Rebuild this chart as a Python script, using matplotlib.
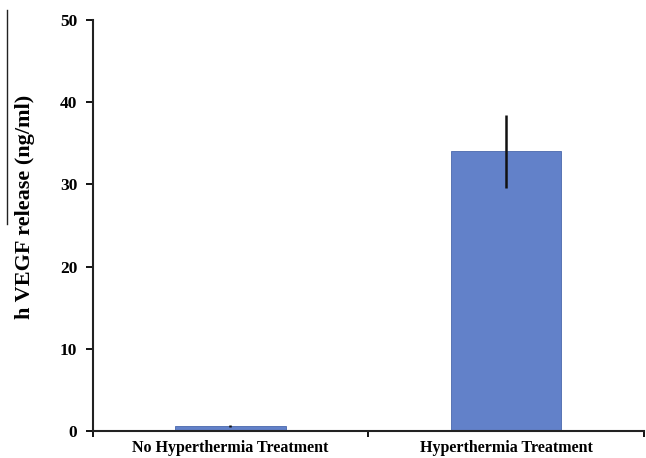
import matplotlib

matplotlib.use("Agg")
import matplotlib.pyplot as plt
from matplotlib.lines import Line2D

categories = ["No Hyperthermia Treatment", "Hyperthermia Treatment"]
vegf_mean = [0.6, 34.0]
vegf_err = [0.1, 4.4]
y_ticks = [0, 10, 20, 30, 40, 50]

plt.rcParams["font.family"] = ["Liberation Serif", "DejaVu Serif"]
plt.rcParams["font.weight"] = "bold"

fig = plt.figure(figsize=(6.46, 4.58), dpi=100)
ax = fig.add_axes([0.1432, 0.059, 0.8538, 0.8974])

x = list(range(len(categories)))
ax.bar(x, vegf_mean, width=0.40, color="#6281c9", edgecolor="#4a68ad", linewidth=0.6, zorder=2)
ax.errorbar(x, vegf_mean, yerr=vegf_err, fmt="none", ecolor="#111111", elinewidth=1.8, capsize=0, zorder=3)

ax.set_xlim(-0.5, 1.5)
ax.set_ylim(0, 50)
ax.set_yticks(y_ticks)
ax.set_yticklabels([str(t) for t in y_ticks], fontsize=12.5, fontweight="bold")

# category labels centred under the bars, ticks on the category boundaries
ax.set_xticks([-0.5, 0.5, 1.5])
ax.set_xticklabels(["", "", ""])
ax.set_xticks(x, minor=True)
ax.set_xticklabels(categories, minor=True, fontsize=11.5, fontweight="bold")
ax.tick_params(axis="x", which="minor", length=0, pad=6.5)
ax.tick_params(axis="x", which="major", direction="out", length=4, width=1.3)
ax.tick_params(axis="y", direction="out", length=5, width=1.3, pad=6)

for side in ("top", "right"):
    ax.spines[side].set_visible(False)
for side in ("left", "bottom"):
    ax.spines[side].set_linewidth(1.5)
    ax.spines[side].set_color("#222222")

ax.set_ylabel("h VEGF release (ng/ml)", fontsize=16, fontweight="bold")
ax.yaxis.set_label_coords(-0.105, 0.545)

# thin vertical rule at the far left of the original figure
fig.add_artist(Line2D([0.011, 0.011], [0.51, 0.978], transform=fig.transFigure, color="#222222", linewidth=1.0))

fig.savefig("out.png", dpi=100)
